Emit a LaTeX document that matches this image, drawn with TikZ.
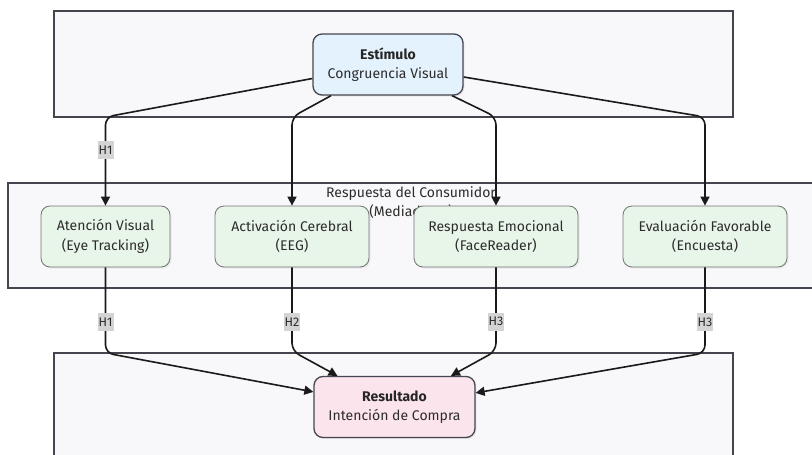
\documentclass[tikz,border=0pt]{standalone}
\usepackage{fontspec}
\setmainfont{Fira Sans}
\usetikzlibrary{arrows.meta,shadows}
\definecolor{clfill}{HTML}{F8F8FA}
\definecolor{clline}{HTML}{45454F}
\definecolor{stimfill}{HTML}{E3F2FD}
\definecolor{medfill}{HTML}{E8F5E9}
\definecolor{resfill}{HTML}{FCE4EC}
\definecolor{txt}{HTML}{2C2C2C}
\definecolor{lblbg}{HTML}{D4D4D4}
\definecolor{conncol}{HTML}{1A1A1A}
\begin{document}
\begin{tikzpicture}[x=1pt,y=-1pt,
  cluster/.style={draw=clline, line width=1.3pt, fill=clfill},
  basebox/.style={rounded corners=9pt, align=center, text=txt,
    font=\fontsize{14}{19.5}\selectfont, minimum height=61pt, inner sep=0pt,
    drop shadow={opacity=0.12, shadow xshift=1.5pt, shadow yshift=-1.5pt}},
  stimbox/.style={basebox, draw=clline, fill=stimfill, line width=1.3pt},
  medbox/.style={basebox, draw=black!55, fill=medfill, line width=0.8pt},
  resbox/.style={basebox, draw=clline, fill=resfill, line width=1.3pt},
  conn/.style={draw=conncol, line width=1.6pt, rounded corners=8pt,
    -{Triangle[length=9pt,width=9pt]}},
  hlabel/.style={sharp corners, fill=lblbg, font=\fontsize{12.5}{13}\selectfont,
    text=txt, inner sep=0pt, minimum width=16pt, minimum height=18pt},
  cllabel/.style={align=center, text=txt, font=\fontsize{14}{19.5}\selectfont}
]
\clip (0,0) rectangle (812,455);
\fill[white] (0,0) rectangle (812,455);

% clusters
\draw[cluster] (54,11) rectangle (733,117);
\draw[cluster] (8,183) rectangle (840,288);
\draw[cluster] (54,353) rectangle (733,480);

\node[cllabel] (cl) at (411,202.5) {Respuesta del Consumidor\\(Mediadores)};

% nodes
\node[stimbox, minimum width=150pt] (stim) at (388,64.5)
  {\textbf{\color{black!85}Estímulo}\\Congruencia Visual};
\node[medbox, minimum width=129pt] (aten) at (105.5,236.5)
  {Atención Visual\\(Eye Tracking)};
\node[medbox, minimum width=154pt] (activ) at (292,236.5)
  {Activación Cerebral\\(EEG)};
\node[medbox, minimum width=164pt] (resp) at (496,236.5)
  {Respuesta Emocional\\(FaceReader)};
\node[medbox, minimum width=164pt] (eval) at (705,236.5)
  {Evaluación Favorable\\(Encuesta)};
\node[resbox, minimum width=161pt] (res) at (394.5,407)
  {\textbf{\color{black!85}Resultado}\\Intención de Compra};

% bend points
\coordinate (c1) at (105.5,117);
\coordinate (c2) at (292,117);
\coordinate (c3) at (496,117);
\coordinate (c4) at (705,117);
\coordinate (d1) at (105.5,353);
\coordinate (d2) at (292,351);
\coordinate (d3) at (496,351);
\coordinate (d4) at (705,353);

% top connectors
\draw[conn] (stim) -- (c1) -- node[hlabel, pos=0.37] {H1} (aten);
\draw[conn] (stim) -- (c2) -- (activ);
\draw[conn] (stim) -- (c3) -- (resp);
\draw[conn] (stim) -- (c4) -- (eval);

% bottom connectors
\draw[conn] (aten) -- node[hlabel, pos=0.64] {H1} (d1) -- (res);
\draw[conn] (activ) -- node[hlabel, pos=0.65] {H2} (d2) -- (res);
\draw[conn] (resp) -- node[hlabel, pos=0.65] {H3} (d3) -- (res);
\draw[conn] (eval) -- node[hlabel, pos=0.64] {H3} (d4) -- (res);
\end{tikzpicture}
\end{document}
